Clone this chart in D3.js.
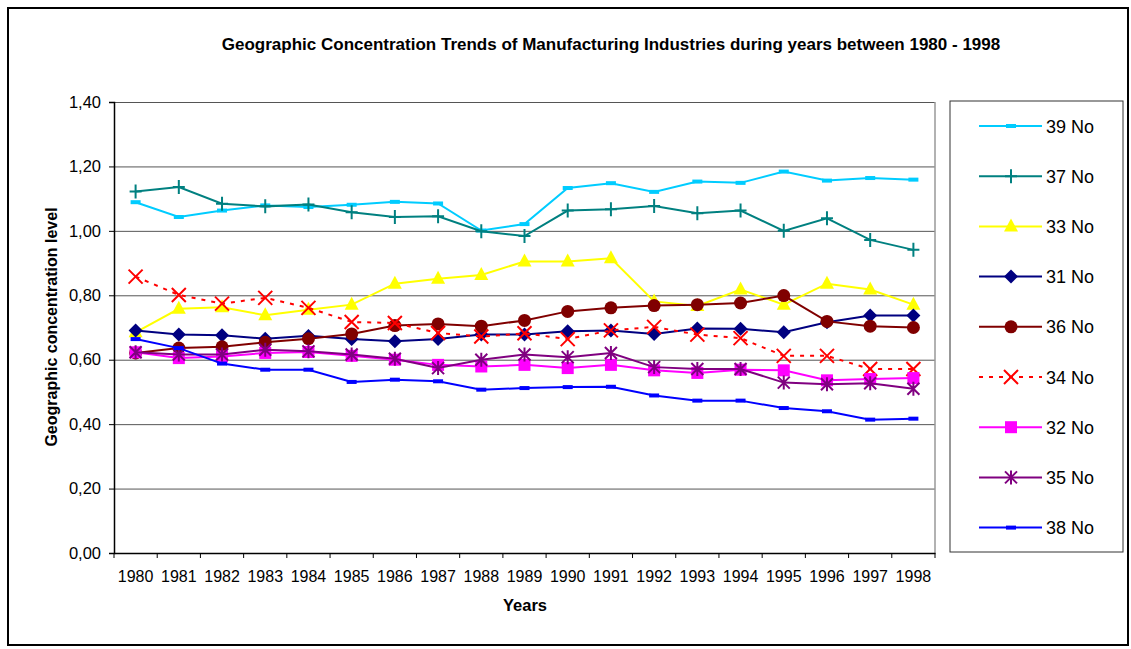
<!DOCTYPE html>
<html>
<head>
<meta charset="utf-8">
<script src="https://cdn.jsdelivr.net/npm/d3@7"></script>
<style>
  body { margin: 0; background: #fff; }
  svg { display: block; font-family: "Liberation Sans", Arial, sans-serif; }
</style>
</head>
<body>
<svg id="chart" width="1131" height="649"></svg>
<script>
const years = ["1980","1981","1982","1983","1984","1985","1986","1987","1988","1989",
  "1990","1991","1992","1993","1994","1995","1996","1997","1998"]
const yTicks = [0, 0.2, 0.4, 0.6, 0.8, 1.0, 1.2, 1.4]

const s39 = [1.089,1.043,1.063,1.079,1.074,1.081,1.090,1.085,1.001,1.021,1.133,1.148,1.121,1.153,1.149,1.184,1.156,1.164,1.159]
const s37 = [1.122,1.136,1.084,1.076,1.082,1.058,1.043,1.045,0.999,0.984,1.063,1.067,1.077,1.055,1.063,1.000,1.039,0.972,0.941]
const s33 = [0.685,0.758,0.763,0.738,0.755,0.771,0.836,0.851,0.863,0.905,0.905,0.915,0.781,0.767,0.818,0.771,0.836,0.818,0.771]
const s31 = [0.691,0.678,0.676,0.665,0.674,0.664,0.657,0.664,0.678,0.678,0.688,0.691,0.680,0.697,0.696,0.685,0.716,0.737,0.737]
const s36 = [0.621,0.636,0.640,0.654,0.665,0.680,0.706,0.711,0.704,0.722,0.750,0.761,0.768,0.771,0.776,0.799,0.719,0.704,0.700]
const s34 = [0.858,0.801,0.774,0.792,0.761,0.717,0.714,0.683,0.672,0.682,0.664,0.691,0.702,0.678,0.667,0.612,0.612,0.571,0.571]
const s32 = [0.623,0.605,0.610,0.621,0.624,0.612,0.600,0.584,0.579,0.584,0.574,0.584,0.567,0.559,0.569,0.567,0.536,0.540,0.543]
const s35 = [0.623,0.616,0.616,0.631,0.626,0.616,0.603,0.574,0.600,0.616,0.608,0.621,0.577,0.571,0.571,0.529,0.524,0.527,0.510]
const s38 = [0.664,0.636,0.588,0.569,0.569,0.531,0.538,0.533,0.507,0.512,0.515,0.516,0.489,0.473,0.473,0.450,0.440,0.414,0.417]

const series = [
  { name: "39 No", values: s39, color: "#00ccff", marker: "dash" },
  { name: "37 No", values: s37, color: "#008080", marker: "plus" },
  { name: "33 No", values: s33, color: "#ffff00", marker: "triangle" },
  { name: "31 No", values: s31, color: "#000080", marker: "diamond" },
  { name: "36 No", values: s36, color: "#800000", marker: "circle" },
  { name: "34 No", values: s34, color: "#ff0000", marker: "x", dashed: true },
  { name: "32 No", values: s32, color: "#ff00ff", marker: "square" },
  { name: "35 No", values: s35, color: "#800080", marker: "star" },
  { name: "38 No", values: s38, color: "#0000ff", marker: "dash" },
]

const plot = { left: 114, top: 102, right: 935, bottom: 553 }
const svg = d3.select("#chart")

// outer frame
svg.append("rect")
  .attr("x", 8).attr("y", 8).attr("width", 1120).attr("height", 637)
  .attr("fill", "#fff").attr("stroke", "#000").attr("stroke-width", 2)

const x = d3.scaleBand().domain(years).range([plot.left, plot.right]).padding(0)
const y = d3.scaleLinear().domain([0, 1.4]).range([plot.bottom, plot.top])
const cx = (d) => x(d) + x.bandwidth() / 2

// gridlines
svg.append("g")
  .attr("transform", `translate(${plot.left},0)`)
  .call(d3.axisLeft(y).tickValues(yTicks.slice(1)).tickSize(-(plot.right - plot.left)).tickFormat(""))
  .call((g) => g.select(".domain").remove())
  .selectAll("line").attr("stroke", "#555").attr("stroke-width", 1)

// plot area border (right)
svg.append("line")
  .attr("x1", plot.right).attr("x2", plot.right)
  .attr("y1", plot.top).attr("y2", plot.bottom)
  .attr("stroke", "#999").attr("stroke-width", 1.5)

// y axis
const yAxis = svg.append("g")
  .attr("transform", `translate(${plot.left},0)`)
  .call(d3.axisLeft(y).tickValues(yTicks).tickSize(5).tickPadding(8)
    .tickFormat((d) => d.toFixed(2).replace(".", ",")))
yAxis.select(".domain").attr("stroke", "#000").attr("stroke-width", 1.5)
yAxis.selectAll("text").attr("font-size", 16.5).attr("fill", "#000")
  .attr("font-family", "Liberation Sans, Arial, sans-serif")

// x axis
const xAxis = svg.append("g")
  .attr("transform", `translate(0,${plot.bottom})`)
  .call(d3.axisBottom(x).tickSize(0).tickPadding(18))
xAxis.select(".domain").attr("stroke", "#000").attr("stroke-width", 1.5)
xAxis.selectAll("text").attr("font-size", 16).attr("fill", "#000")
  .attr("font-family", "Liberation Sans, Arial, sans-serif")

// category boundary ticks
svg.append("g").selectAll("line")
  .data(years.concat(["end"]))
  .join("line")
  .attr("x1", (d, i) => plot.left + i * x.step())
  .attr("x2", (d, i) => plot.left + i * x.step())
  .attr("y1", plot.bottom).attr("y2", plot.bottom + 5)
  .attr("stroke", "#000").attr("stroke-width", 1)

// titles
svg.append("text")
  .attr("x", 611).attr("y", 50)
  .attr("text-anchor", "middle").attr("font-weight", "bold").attr("font-size", 17)
  .text("Geographic Concentration Trends of Manufacturing Industries during years between 1980 - 1998")

svg.append("text")
  .attr("transform", "translate(57,327) rotate(-90)")
  .attr("text-anchor", "middle").attr("font-weight", "bold").attr("font-size", 16)
  .text("Geographic concentration level")

svg.append("text")
  .attr("x", 525).attr("y", 611)
  .attr("text-anchor", "middle").attr("font-weight", "bold").attr("font-size", 16.5)
  .text("Years")

// markers
function drawMarker(g, type, color) {
  if (type === "dash") {
    g.append("rect").attr("x", -5).attr("y", -2).attr("width", 10).attr("height", 4).attr("fill", color)
  } else if (type === "plus") {
    g.append("path").attr("d", "M-6,0H6M0,-7V7").attr("stroke", color).attr("stroke-width", 2).attr("fill", "none")
  } else if (type === "triangle") {
    g.append("path").attr("d", "M0,-8L7,5H-7Z").attr("fill", color)
  } else if (type === "diamond") {
    g.append("path").attr("d", "M0,-7L7,0L0,7L-7,0Z").attr("fill", color)
  } else if (type === "circle") {
    g.append("circle").attr("r", 6.5).attr("fill", color)
  } else if (type === "x") {
    g.append("path").attr("d", "M-7,-7L7,7M7,-7L-7,7").attr("stroke", color).attr("stroke-width", 2).attr("fill", "none")
  } else if (type === "square") {
    g.append("rect").attr("x", -6).attr("y", -6).attr("width", 12).attr("height", 12).attr("fill", color)
  } else if (type === "star") {
    g.append("path").attr("d", "M-6,-6L6,6M6,-6L-6,6M0,-7V7").attr("stroke", color).attr("stroke-width", 2).attr("fill", "none")
  }
}

const line = d3.line().x((d, i) => cx(years[i])).y((d) => y(d))

series.forEach((s) => {
  svg.append("path")
    .datum(s.values)
    .attr("d", line)
    .attr("fill", "none")
    .attr("stroke", s.color)
    .attr("stroke-width", 2)
    .attr("stroke-dasharray", s.dashed ? "4,6" : null)
  svg.append("g").selectAll("g")
    .data(s.values)
    .join("g")
    .attr("transform", (d, i) => `translate(${cx(years[i])},${y(d)})`)
    .each(function () { drawMarker(d3.select(this), s.marker, s.color) })
})

// legend
svg.append("rect")
  .attr("x", 950).attr("y", 101).attr("width", 173).attr("height", 451)
  .attr("fill", "#fff").attr("stroke", "#333").attr("stroke-width", 1)

const legend = svg.append("g").selectAll("g")
  .data(series)
  .join("g")
  .attr("transform", (d, i) => `translate(0,${126 + i * 50.2})`)

legend.append("line")
  .attr("x1", 979).attr("x2", 1042).attr("y1", 0).attr("y2", 0)
  .attr("stroke", (d) => d.color).attr("stroke-width", 2)
  .attr("stroke-dasharray", (d) => d.dashed ? "4,6" : null)
legend.append("g")
  .attr("transform", "translate(1011,0)")
  .each(function (d) { drawMarker(d3.select(this), d.marker, d.color) })
legend.append("text")
  .attr("x", 1046).attr("y", 6.5)
  .attr("font-size", 18).attr("fill", "#000")
  .text((d) => d.name)
</script>
</body>
</html>
